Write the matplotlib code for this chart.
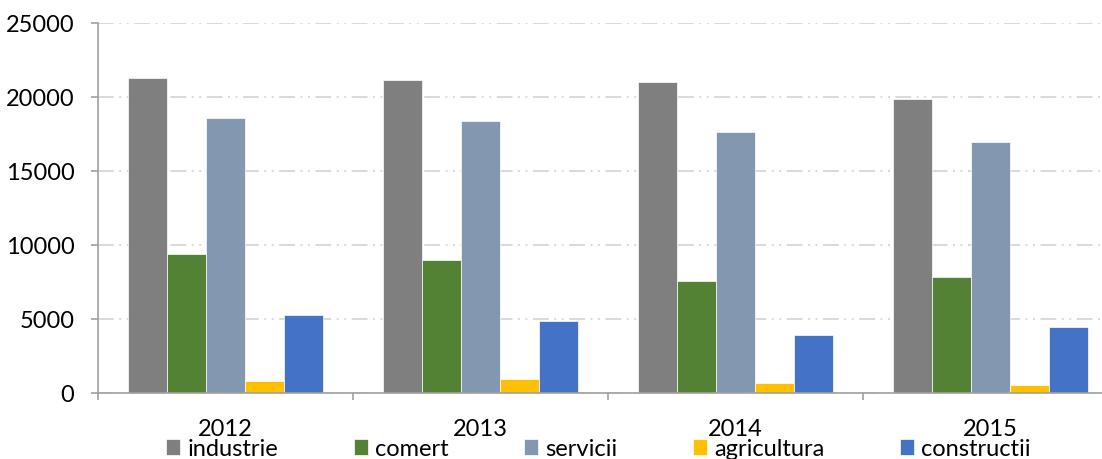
import numpy as np
import matplotlib
matplotlib.use("Agg")
import matplotlib.pyplot as plt

# aspect general
plt.rcParams['font.family'] = ['Lato', 'DejaVu Sans']
plt.rcParams['font.size'] = 17
plt.rcParams['lines.scale_dashes'] = False

# date pe ani si pe sectoare
ani = ['2012', '2013', '2014', '2015']
sectoare = ['industrie', 'comert', 'servicii', 'agricultura', 'constructii']
industrie = [21260, 21125, 21010, 19840]
comert = [9425, 9020, 7600, 7844]
servicii = [18555, 18393, 17629, 16973]
agricultura = [838, 947, 676, 568]
constructii = [5254, 4848, 3949, 4463]
culori = ['#7f7f7f', '#548235', '#8497b0', '#ffc000', '#4472c4']

valori = [industrie, comert, servicii, agricultura, constructii]

fig = plt.figure(figsize=(11.02, 4.59), dpi=100)
ax = fig.add_axes([98 / 1102, 66 / 459, 1020 / 1102, 370 / 459])

x = np.arange(len(ani))
w = 0.153
for k, (nume, v, c) in enumerate(zip(sectoare, valori, culori)):
    ax.bar(x + (k - 2) * w, v, width=w, color=c, edgecolor='white',
           linewidth=0.5, label=nume, zorder=2)

ax.set_xlim(-0.5, len(ani) - 0.5)
ax.set_ylim(0, 25000)
ax.set_yticks(np.arange(0, 25001, 5000))

# liniile de impartire intre ani + etichetele anilor la mijloc
ax.set_xticks(np.arange(len(ani) + 1) - 0.5)
ax.set_xticklabels([])
ax.set_xticks(x, minor=True)
ax.set_xticklabels(ani, minor=True)
ax.tick_params(axis='x', which='major', length=5, width=1.2, color='#a0a0a0',
               direction='out')
ax.tick_params(axis='x', which='minor', length=0, pad=19)
ax.tick_params(axis='y', length=5, width=1.2, color='#a0a0a0', direction='out',
               pad=12)

for s in ['top', 'right']:
    ax.spines[s].set_visible(False)
for s in ['left', 'bottom']:
    ax.spines[s].set_color('#a0a0a0')
    ax.spines[s].set_linewidth(1.2)

ax.set_axisbelow(True)
ax.yaxis.grid(True, color='#d9d9d9', linewidth=1.4,
              linestyle=(0, (11.3, 4, 1.4, 4, 1.4, 4)))

fig.legend(loc='center left', bbox_to_anchor=(166 / 1102, 10 / 459), ncol=5,
           frameon=False, borderpad=0, borderaxespad=0, handlelength=0.6,
           handleheight=0.65, handletextpad=0.3, columnspacing=3.2)

plt.savefig('out.png', dpi=100)
